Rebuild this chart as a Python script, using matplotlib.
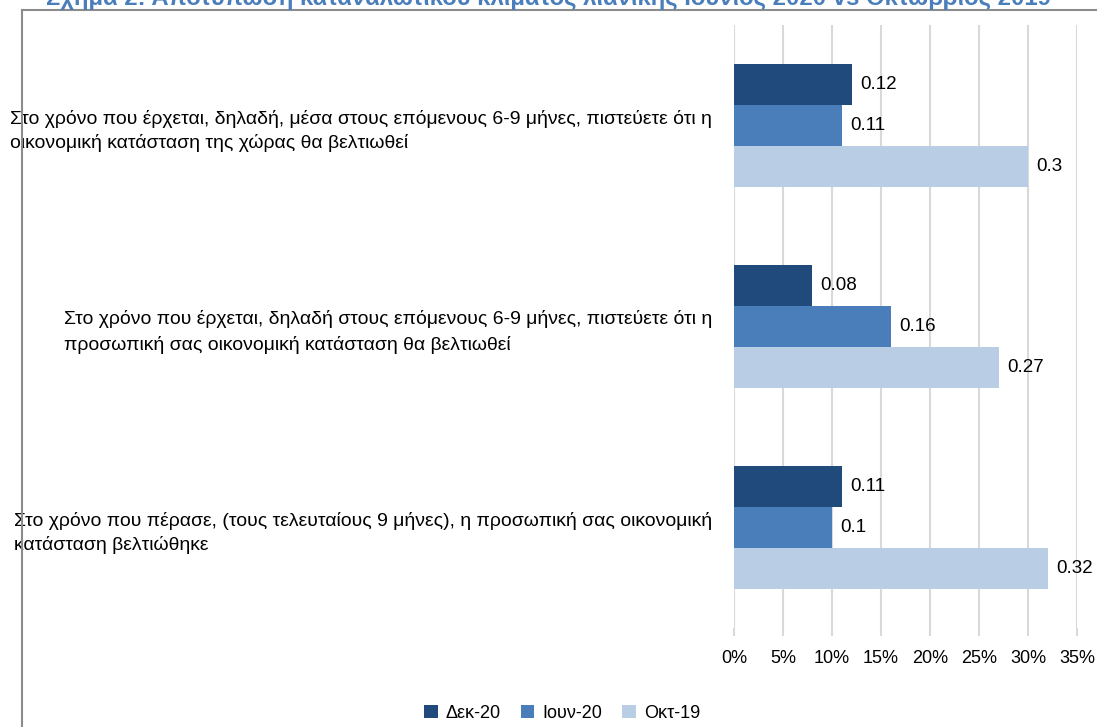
import matplotlib
matplotlib.use("Agg")
import matplotlib.pyplot as plt
import numpy as np
from matplotlib.lines import Line2D
from matplotlib.ticker import PercentFormatter

plt.rcParams["font.family"] = ["Liberation Sans Narrow", "Liberation Sans", "DejaVu Sans"]

title = "Σχήμα 2: Αποτύπωση καταναλωτικού κλίματος λιανικής Ιούνιος 2020 vs Οκτώβριος 2019"
categories = [
    "Στο χρόνο που έρχεται, δηλαδή, μέσα στους επόμενους 6-9 μήνες, πιστεύετε ότι η\nοικονομική κατάσταση της χώρας θα βελτιωθεί",
    "Στο χρόνο που έρχεται, δηλαδή στους επόμενους 6-9 μήνες, πιστεύετε ότι η\nπροσωπική σας οικονομική κατάσταση θα βελτιωθεί",
    "Στο χρόνο που πέρασε, (τους τελευταίους 9 μήνες), η προσωπική σας οικονομική\nκατάσταση βελτιώθηκε",
]
series_names = ["Δεκ-20", "Ιουν-20", "Οκτ-19"]
dec20 = [0.12, 0.08, 0.11]
jun20 = [0.11, 0.16, 0.10]
oct19 = [0.30, 0.27, 0.32]
colors = ["#214a7c", "#4a7ebb", "#b9cde5"]

W, H = 1097, 727
FS = 13
fig = plt.figure(figsize=(W / 100, H / 100), dpi=100)
fig.patch.set_facecolor("white")
ax = fig.add_axes([734 / W, 1 - 628 / H, (1077 - 734) / W, (628 - 25) / H])

y = np.arange(len(categories))
bh = 0.205
for k, (vals, name, c) in enumerate(zip([dec20, jun20, oct19], series_names, colors)):
    pos = y + (k - 1) * bh
    ax.barh(pos, vals, height=bh, color=c, label=name, zorder=2)
    for p, v in zip(pos, vals):
        ax.annotate(f"{v:g}", (v, p), xytext=(6, 0), textcoords="offset points",
                    va="center", ha="left", fontsize=FS + 0.5, color="#000000")

ax.set_xlim(0, 0.35)
ax.set_ylim(2.5, -0.5)
ax.set_xticks(np.arange(0, 0.351, 0.05))
ax.xaxis.set_major_formatter(PercentFormatter(1.0, decimals=0))
ax.set_yticks(y)
ytl = ax.set_yticklabels(categories, multialignment="left", fontsize=FS, linespacing=1.5)
ax.tick_params(axis="y", length=0, pad=16)
ax.tick_params(axis="x", length=6, color="#d9d9d9", width=1.5, labelsize=FS, pad=10)
ax.grid(axis="x", color="#d9d9d9", linewidth=1.5, zorder=0)
for s in ax.spines.values():
    s.set_visible(False)

fig.legend(loc="center", bbox_to_anchor=(562 / W, 1 - 713 / H), ncol=3, frameon=False,
           fontsize=FS, handlelength=0.75, handleheight=0.75, handletextpad=0.45, columnspacing=1.1)

# frame of the original document (cut at right and bottom)
fig.add_artist(Line2D([22 / W, 1], [1 - 10 / H, 1 - 10 / H], color="#8c8c8c", linewidth=1.5))
fig.add_artist(Line2D([22 / W, 22 / W], [1 - 10 / H, 0], color="#8c8c8c", linewidth=1.5))

t = fig.text(549 / W, 1 - 5 / H, title, ha="center", va="baseline", fontsize=16,
             fontweight="bold", color="#4a7ebb", family=["Liberation Sans", "DejaVu Sans"])
r = fig.canvas.get_renderer()
wpx = t.get_window_extent(r).width
t.set_fontsize(16 * 1004 / wpx)

# the source uses a narrow face: size the long labels so the first one spans ~700 px
fig.canvas.draw()
lw = ytl[0].get_window_extent(r).width
for lab in ytl:
    lab.set_fontsize(FS * 700 / lw)

fig.savefig("out.png", dpi=100, facecolor="white")
